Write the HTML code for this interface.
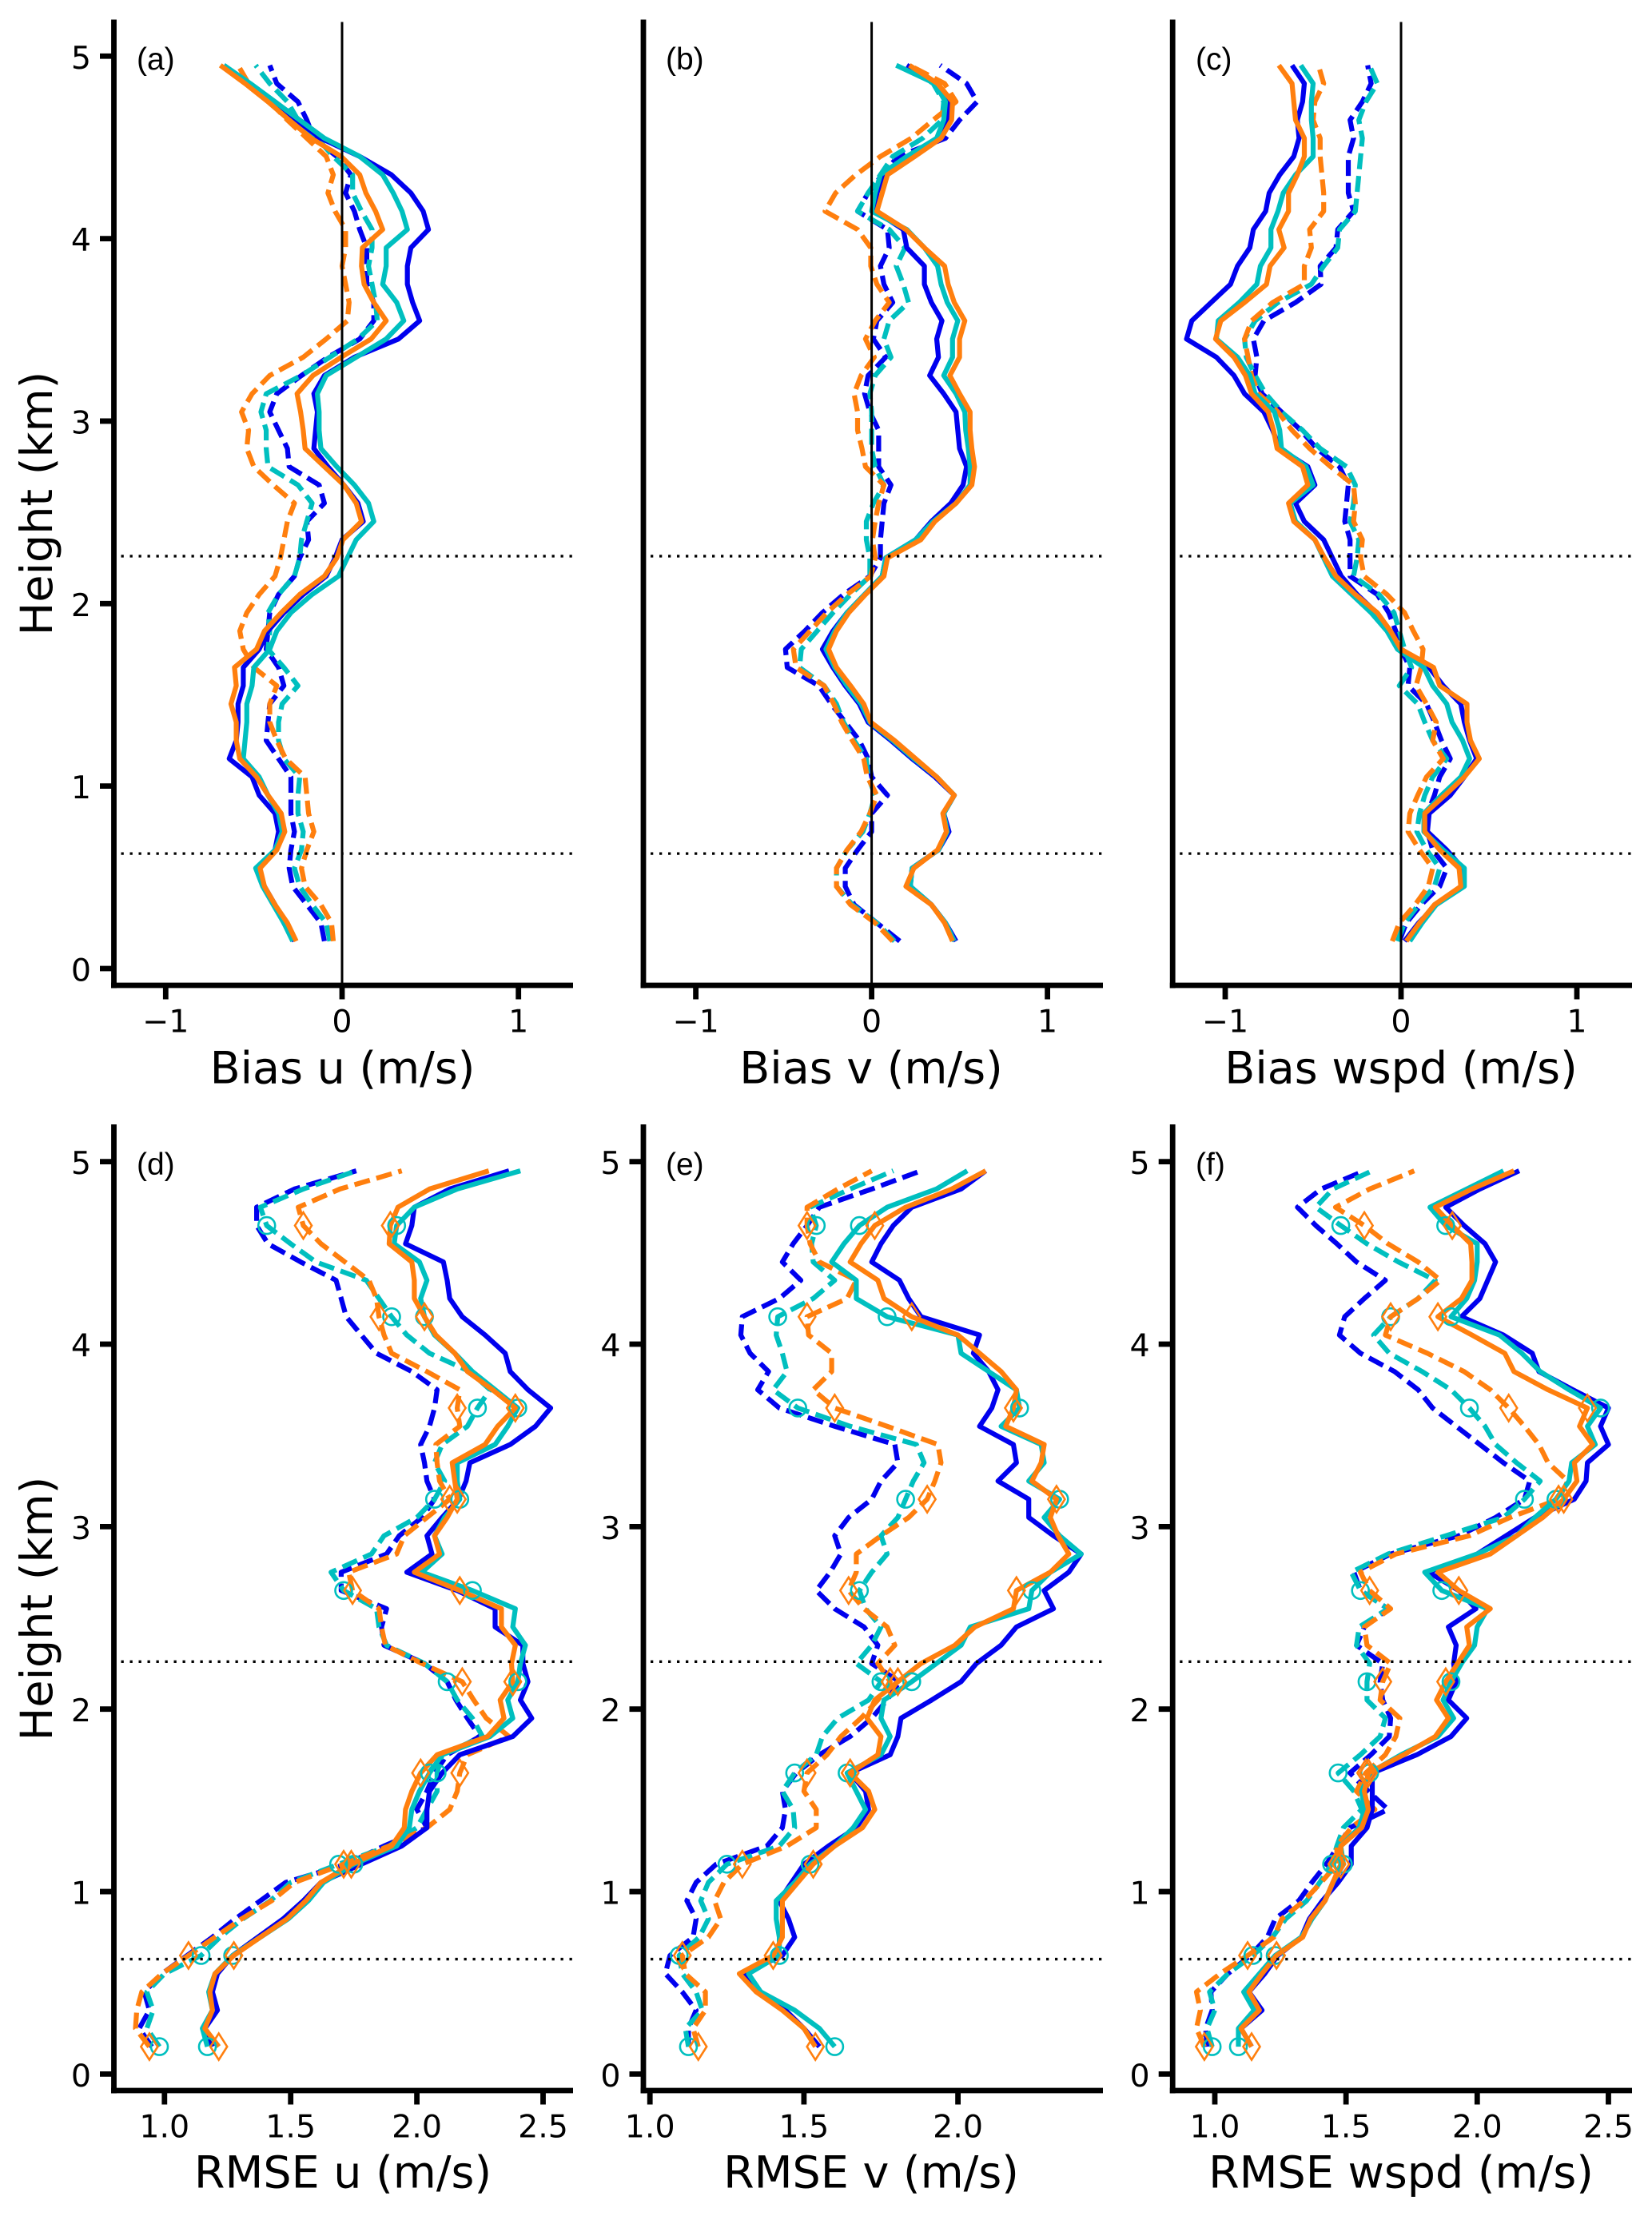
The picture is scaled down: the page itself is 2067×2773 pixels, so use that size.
<!DOCTYPE html>
<html lang="en">
<head>
<meta charset="utf-8">
<title>Wind profile bias and RMSE</title>
<style>
html,body{margin:0;padding:0;background:#fff}
svg{display:block}
text{font-family:"DejaVu Sans",sans-serif;fill:#000}
.tick{font-size:39.5px}
.title{font-size:55.5px}
.tag{font-family:"Liberation Sans",sans-serif;font-size:39px}
</style>
</head>
<body>
<svg id="fig" xmlns="http://www.w3.org/2000/svg" width="2067" height="2773" viewBox="0 0 2067 2773">
<rect width="2067" height="2773" fill="#fff"/>
<g id="plots"></g>
<text class="title" transform="translate(65,630) rotate(-90)" text-anchor="middle">Height (km)</text>
<text class="title" transform="translate(65,2013) rotate(-90)" text-anchor="middle">Height (km)</text>
<text class="title" x="428.5" y="1355.5" text-anchor="middle">Bias u (m/s)</text>
<text class="title" x="1090" y="1355.5" text-anchor="middle">Bias v (m/s)</text>
<text class="title" x="1753" y="1355.5" text-anchor="middle">Bias wspd (m/s)</text>
<text class="title" x="429" y="2737.5" text-anchor="middle">RMSE u (m/s)</text>
<text class="title" x="1090" y="2737.5" text-anchor="middle">RMSE v (m/s)</text>
<text class="title" x="1753" y="2737.5" text-anchor="middle">RMSE wspd (m/s)</text>
<text class="tag" x="171" y="87">(a)</text>
<text class="tag" x="833" y="87">(b)</text>
<text class="tag" x="1496" y="87">(c)</text>
<text class="tag" x="171" y="1470">(d)</text>
<text class="tag" x="833" y="1470">(e)</text>
<text class="tag" x="1496" y="1470">(f)</text>
</svg>
<script>
const heights = [.15,.25,.35,.45,.55,.65,.75,.85,.95,1.05,1.15,1.25,1.35,1.45,1.55,1.65,1.75,1.85,1.95,2.05,2.15,2.25,2.35,2.45,2.55,2.65,2.75,2.85,2.95,3.05,3.15,3.25,3.35,3.45,3.55,3.65,3.75,3.85,3.95,4.05,4.15,4.25,4.35,4.45,4.55,4.65,4.75,4.85,4.95];
const heightTicks = [0,1,2,3,4,5];
const dottedLevels = [2.26,0.63];
const biasTicks = [-1,0,1];
const rmseTicksU = [1.0,1.5,2.0,2.5];
const rmseTicksV = [1.0,1.5,2.0];
const rmseTicksW = [1.0,1.5,2.0,2.5];

const aBlueSolid = [-.27,-.33,-.38,-.44,-.48,-.38,-.36,-.38,-.47,-.51,-.64,-.6,-.59,-.59,-.56,-.56,-.47,-.42,-.33,-.22,-.09,-.04,0,.12,.09,.01,-.08,-.16,-.15,-.14,-.16,-.1,.07,.32,.44,.4,.37,.37,.39,.49,.46,.39,.28,.1,-.12,-.26,-.39,-.54,-.67];
const aTealSolid = [-.28,-.33,-.39,-.45,-.49,-.38,-.34,-.36,-.42,-.47,-.56,-.55,-.54,-.54,-.51,-.5,-.41,-.37,-.29,-.17,-.02,.03,.08,.18,.15,.07,-.03,-.12,-.13,-.13,-.14,-.09,.08,.25,.35,.31,.23,.25,.25,.37,.34,.29,.23,.1,-.1,-.24,-.38,-.52,-.67];
const aOrangeSolid = [-.26,-.31,-.38,-.44,-.465,-.37,-.325,-.345,-.42,-.485,-.58,-.6,-.6,-.63,-.6,-.61,-.485,-.44,-.345,-.24,-.1,-.03,.005,.11,.08,.01,-.1,-.21,-.22,-.235,-.255,-.165,-.005,.165,.25,.18,.125,.11,.115,.23,.19,.135,.1,-.005,-.175,-.3,-.42,-.55,-.69];
const aBlueDash = [-.1,-.12,-.2,-.28,-.3,-.29,-.27,-.29,-.29,-.29,-.36,-.43,-.42,-.41,-.33,-.36,-.43,-.42,-.41,-.36,-.27,-.24,-.19,-.2,-.1,-.13,-.3,-.31,-.36,-.41,-.37,-.23,-.08,.1,.18,.18,.14,.14,.14,.1,.07,.02,.05,-.03,-.16,-.2,-.25,-.37,-.41];
const aTealDash = [-.07,-.09,-.17,-.24,-.27,-.23,-.22,-.25,-.25,-.24,-.33,-.36,-.36,-.34,-.25,-.33,-.42,-.41,-.42,-.36,-.27,-.24,-.23,-.2,-.17,-.25,-.42,-.43,-.43,-.46,-.43,-.23,-.07,.09,.2,.19,.17,.15,.17,.17,.11,.06,.06,-.05,-.14,-.25,-.31,-.41,-.49];
const aOrangeDash = [-.05,-.06,-.12,-.21,-.23,-.2,-.16,-.19,-.2,-.21,-.32,-.37,-.41,-.41,-.37,-.5,-.56,-.58,-.54,-.47,-.38,-.35,-.33,-.31,-.27,-.39,-.5,-.54,-.53,-.57,-.51,-.41,-.22,-.09,.03,.04,.02,0,.02,.02,-.04,-.08,-.05,-.09,-.2,-.31,-.41,-.53,-.59];

const bBlueSolid = [.48,.42,.34,.22,.23,.38,.44,.41,.47,.36,.23,.11,-.02,-.07,-.15,-.22,-.28,-.22,-.14,-.04,.06,.08,.25,.34,.45,.52,.54,.5,.49,.48,.41,.33,.38,.37,.4,.34,.3,.3,.2,.18,.02,.03,.07,.22,.37,.43,.44,.37,.2];
const bTealSolid = [.47,.42,.34,.22,.23,.38,.43,.41,.47,.37,.24,.12,-.01,-.06,-.14,-.21,-.26,-.21,-.14,-.04,.06,.08,.25,.35,.48,.56,.56,.55,.535,.53,.48,.41,.46,.46,.49,.43,.395,.375,.3,.2,0,.02,.05,.2,.37,.41,.42,.36,.14];
const bOrangeSolid = [.46,.415,.34,.195,.24,.375,.425,.405,.47,.37,.25,.13,-.005,-.045,-.12,-.2,-.245,-.2,-.13,-.035,.07,.09,.28,.36,.48,.57,.585,.57,.56,.56,.5,.445,.5,.5,.53,.47,.435,.415,.3,.195,.03,.06,.09,.245,.395,.455,.46,.375,.215];
const bBlueDash = [.16,.03,-.1,-.15,-.15,-.08,0,0,.09,0,-.02,-.07,-.15,-.23,-.3,-.48,-.49,-.38,-.28,-.16,-.01,.05,.05,.06,.07,.11,.04,.04,.04,-.01,-.04,-.02,.08,.01,.03,.12,.07,.05,.1,.09,-.08,-.02,.06,.15,.42,.5,.6,.54,.39];
const bTealDash = [.13,.03,-.11,-.2,-.2,-.14,-.05,-.01,.02,-.02,-.03,-.1,-.16,-.2,-.27,-.41,-.4,-.31,-.22,-.12,-.01,-.01,-.03,-.03,.01,.07,.02,0,0,0,-.01,.02,.11,.07,.1,.21,.18,.14,.19,.1,-.08,-.02,.05,.12,.29,.4,.41,.35,.2];
const bOrangeDash = [.12,.02,-.12,-.2,-.2,-.14,-.06,-.01,.03,-.025,-.045,-.11,-.17,-.215,-.27,-.43,-.445,-.35,-.255,-.14,-.005,.02,.005,.02,.04,.07,-.035,-.055,-.08,-.08,-.1,-.06,.015,-.035,.02,.1,.03,-.005,-.005,-.08,-.265,-.205,-.09,.05,.225,.35,.48,.415,.215];

const cBlueSolid = [.02,.1,.2,.35,.35,.26,.15,.16,.28,.36,.43,.39,.36,.34,.24,.16,0,-.07,-.14,-.25,-.34,-.39,-.44,-.55,-.6,-.49,-.53,-.69,-.73,-.78,-.89,-.95,-1.05,-1.22,-1.19,-1.08,-.97,-.93,-.86,-.84,-.77,-.75,-.69,-.61,-.58,-.59,-.56,-.55,-.62];
const cTealSolid = [.05,.12,.2,.36,.36,.24,.13,.13,.23,.34,.39,.35,.29,.26,.18,.13,-.02,-.08,-.17,-.28,-.39,-.44,-.49,-.6,-.63,-.5,-.54,-.68,-.69,-.72,-.83,-.86,-.93,-1.05,-1.04,-.92,-.82,-.8,-.74,-.74,-.7,-.67,-.6,-.5,-.5,-.51,-.51,-.5,-.57];
const cOrangeSolid = [.03,.105,.19,.34,.33,.22,.135,.135,.25,.36,.445,.395,.375,.375,.22,.185,0,-.06,-.135,-.26,-.37,-.435,-.49,-.61,-.64,-.53,-.56,-.705,-.725,-.755,-.85,-.885,-.95,-1.055,-1.025,-.89,-.765,-.745,-.665,-.695,-.64,-.64,-.59,-.55,-.55,-.6,-.61,-.62,-.695];
const cBlueDash = [-.01,.03,.115,.22,.26,.18,.15,.15,.19,.22,.28,.23,.19,.145,.04,.05,0,-.03,-.07,-.135,-.29,-.29,-.29,-.32,-.31,-.3,-.35,-.48,-.57,-.68,-.79,-.83,-.82,-.84,-.78,-.6,-.455,-.46,-.37,-.36,-.27,-.3,-.3,-.3,-.27,-.29,-.22,-.17,-.19];
const cTealDash = [-.02,.02,.1,.19,.22,.145,.09,.105,.135,.18,.26,.18,.135,.095,-.01,.06,.02,-.01,-.04,-.125,-.27,-.25,-.24,-.29,-.27,-.26,-.31,-.46,-.56,-.68,-.77,-.83,-.88,-.89,-.83,-.7,-.51,-.44,-.36,-.35,-.26,-.25,-.24,-.23,-.22,-.24,-.2,-.135,-.18];
const cOrangeDash = [-.05,-.01,.08,.155,.18,.105,.04,.05,.095,.145,.24,.18,.2,.145,.085,.115,.125,.07,.02,-.08,-.21,-.23,-.22,-.27,-.26,-.27,-.4,-.52,-.62,-.7,-.81,-.85,-.87,-.89,-.85,-.73,-.55,-.55,-.51,-.52,-.44,-.44,-.45,-.46,-.46,-.5,-.49,-.44,-.47];

const dBlueSolid = [1.19,1.16,1.21,1.19,1.21,1.27,1.37,1.47,1.55,1.62,1.78,1.94,2.04,2.04,2.05,2.1,2.17,2.38,2.455,2.41,2.44,2.42,2.42,2.31,2.31,2.16,1.96,2.06,2.04,2.1,2.165,2.195,2.21,2.37,2.47,2.53,2.44,2.37,2.35,2.27,2.18,2.13,2.12,2.105,1.955,1.98,1.99,2.13,2.365];
const dTealSolid = [1.17,1.15,1.19,1.175,1.2,1.27,1.38,1.49,1.57,1.63,1.75,1.92,1.97,1.98,2.01,2.05,2.1,2.29,2.38,2.36,2.4,2.41,2.43,2.38,2.39,2.22,2.02,2.1,2.07,2.11,2.17,2.16,2.16,2.31,2.36,2.4,2.31,2.22,2.15,2.07,2.03,2.015,2.04,2.01,1.91,1.92,1.99,2.16,2.41];
const dOrangeSolid = [1.215,1.16,1.19,1.18,1.2,1.275,1.38,1.485,1.56,1.62,1.74,1.9,1.95,1.955,1.98,2.015,2.08,2.28,2.345,2.33,2.38,2.375,2.39,2.335,2.335,2.17,1.99,2.09,2.07,2.12,2.16,2.15,2.14,2.27,2.32,2.39,2.3,2.2,2.15,2.075,2.03,1.99,1.99,1.98,1.89,1.895,1.925,2.05,2.285];
const dBlueDash = [.95,.9,.94,.92,.99,1.09,1.19,1.28,1.38,1.48,1.72,1.87,2.04,2,2.04,2.07,2.12,2.25,2.2,2.155,2.12,2.03,1.87,1.86,1.88,1.7,1.7,1.88,1.93,2.02,2.07,2.04,2.03,2.015,2.05,2.07,2.08,1.98,1.84,1.78,1.72,1.7,1.68,1.54,1.41,1.365,1.365,1.515,1.76];
const dTealDash = [.98,.93,.955,.93,1,1.145,1.22,1.31,1.42,1.5,1.69,1.89,2,2.04,2.08,2.08,2.1,2.26,2.22,2.16,2.12,2.03,1.88,1.85,1.84,1.71,1.66,1.82,1.87,2,2.07,2.11,2.07,2.1,2.2,2.24,2.29,2.21,2.05,1.96,1.9,1.85,1.8,1.6,1.5,1.405,1.38,1.55,1.76];
const dOrangeDash = [.94,.885,.89,.91,.99,1.095,1.2,1.305,1.425,1.515,1.71,1.89,2.04,2.13,2.16,2.17,2.2,2.365,2.275,2.225,2.18,2.02,1.875,1.86,1.85,1.745,1.73,1.92,1.95,2.04,2.13,2.09,2.08,2.075,2.17,2.16,2.17,2.04,1.9,1.87,1.85,1.84,1.81,1.715,1.62,1.55,1.53,1.695,1.94];

const eBlueSolid = [1.55,1.5,1.44,1.35,1.3,1.43,1.47,1.45,1.42,1.46,1.5,1.58,1.67,1.71,1.7,1.65,1.78,1.805,1.815,1.915,2.01,2.06,2.14,2.19,2.31,2.28,2.36,2.4,2.31,2.23,2.23,2.13,2.19,2.18,2.07,2.11,2.13,2.1,2.05,2.07,1.88,1.84,1.81,1.72,1.75,1.79,1.85,2.01,2.09];
const eTealSolid = [1.6,1.55,1.47,1.36,1.32,1.42,1.42,1.41,1.41,1.47,1.52,1.6,1.66,1.7,1.67,1.64,1.75,1.78,1.75,1.76,1.85,1.93,2.01,2.04,2.23,2.24,2.3,2.4,2.33,2.28,2.33,2.23,2.28,2.27,2.14,2.2,2.19,2.1,2.01,2,1.77,1.67,1.67,1.59,1.63,1.68,1.77,1.93,2.03];
const eOrangeSolid = [1.537,1.5,1.43,1.345,1.29,1.4,1.43,1.43,1.43,1.48,1.53,1.6,1.69,1.73,1.71,1.65,1.74,1.75,1.705,1.73,1.805,1.88,1.99,2.055,2.18,2.19,2.3,2.36,2.325,2.3,2.32,2.24,2.27,2.28,2.155,2.18,2.19,2.14,2.07,2,1.85,1.76,1.74,1.65,1.685,1.73,1.83,1.98,2.09];
const eBlueDash = [1.125,1.125,1.15,1.105,1.05,1.065,1.14,1.15,1.12,1.15,1.215,1.38,1.43,1.44,1.43,1.475,1.55,1.65,1.72,1.77,1.81,1.72,1.74,1.695,1.6,1.54,1.585,1.62,1.6,1.645,1.72,1.75,1.805,1.795,1.6,1.42,1.35,1.385,1.325,1.295,1.3,1.42,1.49,1.43,1.465,1.51,1.55,1.72,1.88];
const eTealDash = [1.125,1.115,1.17,1.15,1.105,1.095,1.16,1.19,1.165,1.19,1.25,1.42,1.47,1.465,1.43,1.47,1.54,1.56,1.61,1.71,1.75,1.67,1.72,1.75,1.7,1.68,1.72,1.77,1.75,1.805,1.83,1.855,1.89,1.865,1.65,1.48,1.4,1.445,1.43,1.41,1.415,1.53,1.6,1.53,1.525,1.54,1.52,1.65,1.79];
const eOrangeDash = [1.157,1.14,1.18,1.18,1.115,1.105,1.19,1.23,1.21,1.24,1.3,1.445,1.54,1.54,1.5,1.51,1.575,1.62,1.685,1.74,1.78,1.74,1.795,1.77,1.695,1.645,1.67,1.67,1.75,1.84,1.9,1.925,1.945,1.935,1.77,1.6,1.53,1.59,1.59,1.515,1.51,1.64,1.67,1.55,1.52,1.51,1.51,1.61,1.72];

const fBlueSolid = [1.14,1.1,1.18,1.13,1.19,1.24,1.33,1.36,1.41,1.47,1.52,1.52,1.58,1.6,1.6,1.6,1.77,1.9,1.96,1.89,1.92,1.91,1.92,1.89,1.995,1.93,1.815,2,2.11,2.22,2.37,2.415,2.42,2.5,2.47,2.5,2.365,2.235,2.21,2.1,1.94,2.01,2.04,2.07,2.03,1.95,1.88,2.01,2.16];
const fTealSolid = [1.09,1.09,1.15,1.11,1.17,1.23,1.33,1.37,1.42,1.45,1.49,1.48,1.55,1.57,1.56,1.59,1.71,1.85,1.91,1.87,1.9,1.94,1.99,2,2.04,1.865,1.8,2,2.15,2.22,2.3,2.35,2.36,2.45,2.42,2.47,2.35,2.24,2.17,2.085,1.9,1.96,1.99,2,2,1.88,1.82,1.96,2.1];
const fOrangeSolid = [1.14,1.1,1.17,1.13,1.18,1.235,1.335,1.365,1.42,1.45,1.48,1.48,1.56,1.585,1.57,1.585,1.72,1.84,1.89,1.845,1.88,1.925,1.97,1.96,2.05,1.93,1.85,2.05,2.15,2.25,2.33,2.38,2.37,2.44,2.39,2.42,2.27,2.14,2.105,1.98,1.85,1.94,1.98,1.98,1.975,1.905,1.84,1.98,2.14];
const fBlueDash = [.97,.965,.99,.985,1.05,1.135,1.2,1.23,1.32,1.37,1.425,1.47,1.515,1.66,1.585,1.515,1.595,1.665,1.67,1.64,1.63,1.64,1.54,1.57,1.66,1.555,1.53,1.67,1.93,2.07,2.18,2.2,2.1,2.01,1.92,1.83,1.775,1.685,1.555,1.475,1.495,1.57,1.65,1.54,1.465,1.385,1.315,1.405,1.57];
const fTealDash = [.99,.97,1,.98,1.05,1.145,1.22,1.27,1.35,1.4,1.445,1.465,1.49,1.56,1.53,1.47,1.555,1.63,1.65,1.58,1.58,1.59,1.54,1.55,1.66,1.555,1.52,1.66,1.88,2.1,2.18,2.24,2.15,2.07,2.03,1.97,1.9,1.79,1.665,1.605,1.67,1.775,1.84,1.7,1.58,1.48,1.385,1.45,1.6];
const fOrangeDash = [.96,.93,.945,.93,1.02,1.125,1.225,1.255,1.34,1.405,1.465,1.465,1.52,1.61,1.54,1.575,1.65,1.69,1.705,1.63,1.64,1.67,1.58,1.57,1.67,1.59,1.555,1.69,1.97,2.125,2.31,2.345,2.27,2.235,2.18,2.12,2.05,1.95,1.81,1.65,1.67,1.775,1.86,1.775,1.66,1.57,1.46,1.59,1.76];

const BLUE = '#0000ee', TEAL = '#00bfbf', ORANGE = '#ff7f0e';
const NS = 'http://www.w3.org/2000/svg';
const plots = document.getElementById('plots');

function make(tag, attrs, parent) {
  const el = document.createElementNS(NS, tag);
  for (const k in attrs) el.setAttribute(k, attrs[k]);
  parent.appendChild(el);
  return el;
}

function drawPanel(p) {
  const xOf = v => p.xPx + (v - p.xRef) * p.xUnit;
  const yOf = h => p.y0 - h * 228.35;

  const group = make('g', {}, plots);
  
  

  const lines = [
    [p.s.blueDash, BLUE, true, 'blue-dashed'],
    [p.s.tealDash, TEAL, true, 'teal-dashed'],
    [p.s.orangeDash, ORANGE, true, 'orange-dashed'],
    [p.s.blueSolid, BLUE, false, 'blue-solid'],
    [p.s.tealSolid, TEAL, false, 'teal-solid'],
    [p.s.orangeSolid, ORANGE, false, 'orange-solid']
  ];
  lines.forEach(line => {
    const vals = line[0];
    const pts = vals.map((v, i) => xOf(v).toFixed(1) + ',' + yOf(heights[i]).toFixed(1)).join(' ');
    const attrs = {points: pts, fill: 'none', stroke: line[1], 'stroke-width': 6.2, 'stroke-linejoin': 'round'};
    if (line[2]) attrs['stroke-dasharray'] = '20 8.5';
    const poly = make('polyline', attrs, group);
    
    
  });

  if (p.markers) {
    [p.s.tealDash, p.s.tealSolid].forEach(vals => {
      heights.forEach((h, i) => {
        if (i % 5 !== 0 || h > 4.7) return;
        const c = make('circle', {cx: xOf(vals[i]).toFixed(1), cy: yOf(h).toFixed(1), r: 10.5, fill: 'none', stroke: TEAL, 'stroke-width': 2.6}, group);
        
        
      });
    });
    [p.s.orangeDash, p.s.orangeSolid].forEach(vals => {
      heights.forEach((h, i) => {
        if (i % 5 !== 0 || h > 4.7) return;
        const x = xOf(vals[i]), y = yOf(h);
        const d = [[x, y - 16.5], [x + 10.5, y], [x, y + 16.5], [x - 10.5, y]].map(q => q[0].toFixed(1) + ',' + q[1].toFixed(1)).join(' ');
        const m = make('polygon', {points: d, fill: 'none', stroke: ORANGE, 'stroke-width': 2.6}, group);
        
        
      });
    });
  }

  if (p.zeroLine) {
    const z = make('line', {x1: xOf(0), x2: xOf(0), y1: p.top + 3, y2: p.bottom, stroke: '#000', 'stroke-width': 3}, group);
    
    
  }

  dottedLevels.forEach(h => {
    const dl = make('line', {x1: p.left + 9, x2: p.right, y1: yOf(h), y2: yOf(h), stroke: '#000', 'stroke-width': 3.3, 'stroke-dasharray': '3.3 7.7'}, group);
    
    
  });

  const ls = make('line', {x1: p.left, x2: p.left, y1: p.top, y2: p.bottom + 3.5, stroke: '#000', 'stroke-width': 6.8}, group);
  
  
  const bs = make('line', {x1: p.left - 3.4, x2: p.right, y1: p.bottom, y2: p.bottom, stroke: '#000', 'stroke-width': 6.8}, group);
  
  

  p.xTicks.forEach(v => {
    const tk = make('line', {x1: xOf(v), x2: xOf(v), y1: p.bottom, y2: p.bottom + 17.5, stroke: '#000', 'stroke-width': 6.8}, group);
    
    
    const tx = make('text', {x: xOf(v), y: p.bottom + 58.5, 'text-anchor': 'middle', class: 'tick'}, group);
    
    
    tx.textContent = p.xFormat(v);
  });

  if (p.yTicks) {
    heightTicks.forEach(h => {
      const tk = make('line', {x1: p.left, x2: p.left - 17.5, y1: yOf(h), y2: yOf(h), stroke: '#000', 'stroke-width': 6.8}, group);
      
      
      const tx = make('text', {x: p.left - 28.5, y: yOf(h) + 15.5, 'text-anchor': 'end', class: 'tick'}, group);
      
      
      tx.textContent = String(h);
    });
  }
}

const fmtBias = v => (v < 0 ? '\u2212' + Math.abs(v) : String(v));
const fmtRmse = v => v.toFixed(1);

drawPanel({id:'a',left:142.5,right:717,top:24.5,bottom:1233,y0:1212,xPx:428,xRef:0,xUnit:220.7,xTicks:biasTicks,xFormat:fmtBias,yTicks:true,zeroLine:true,markers:false,
  s:{blueSolid:aBlueSolid,tealSolid:aTealSolid,orangeSolid:aOrangeSolid,blueDash:aBlueDash,tealDash:aTealDash,orangeDash:aOrangeDash}});
drawPanel({id:'b',left:805,right:1380,top:24.5,bottom:1233,y0:1212,xPx:1090.6,xRef:0,xUnit:220,xTicks:biasTicks,xFormat:fmtBias,yTicks:false,zeroLine:true,markers:false,
  s:{blueSolid:bBlueSolid,tealSolid:bTealSolid,orangeSolid:bOrangeSolid,blueDash:bBlueDash,tealDash:bTealDash,orangeDash:bOrangeDash}});
drawPanel({id:'c',left:1467.2,right:2042,top:24.5,bottom:1233,y0:1212,xPx:1753,xRef:0,xUnit:220,xTicks:biasTicks,xFormat:fmtBias,yTicks:false,zeroLine:true,markers:false,
  s:{blueSolid:cBlueSolid,tealSolid:cTealSolid,orangeSolid:cOrangeSolid,blueDash:cBlueDash,tealDash:cTealDash,orangeDash:cOrangeDash}});
drawPanel({id:'d',left:142.5,right:717,top:1407,bottom:2616,y0:2595.4,xPx:205.8,xRef:1,xUnit:315.8,xTicks:rmseTicksU,xFormat:fmtRmse,yTicks:true,zeroLine:false,markers:true,
  s:{blueSolid:dBlueSolid,tealSolid:dTealSolid,orangeSolid:dOrangeSolid,blueDash:dBlueDash,tealDash:dTealDash,orangeDash:dOrangeDash}});
drawPanel({id:'e',left:805,right:1380,top:1407,bottom:2616,y0:2595.4,xPx:813.2,xRef:1,xUnit:385.4,xTicks:rmseTicksV,xFormat:fmtRmse,yTicks:true,zeroLine:false,markers:true,
  s:{blueSolid:eBlueSolid,tealSolid:eTealSolid,orangeSolid:eOrangeSolid,blueDash:eBlueDash,tealDash:eTealDash,orangeDash:eOrangeDash}});
drawPanel({id:'f',left:1467.2,right:2042,top:1407,bottom:2616,y0:2595.4,xPx:1520,xRef:1,xUnit:328.3,xTicks:rmseTicksW,xFormat:fmtRmse,yTicks:true,zeroLine:false,markers:true,
  s:{blueSolid:fBlueSolid,tealSolid:fTealSolid,orangeSolid:fOrangeSolid,blueDash:fBlueDash,tealDash:fTealDash,orangeDash:fOrangeDash}});
</script>
</body>
</html>
